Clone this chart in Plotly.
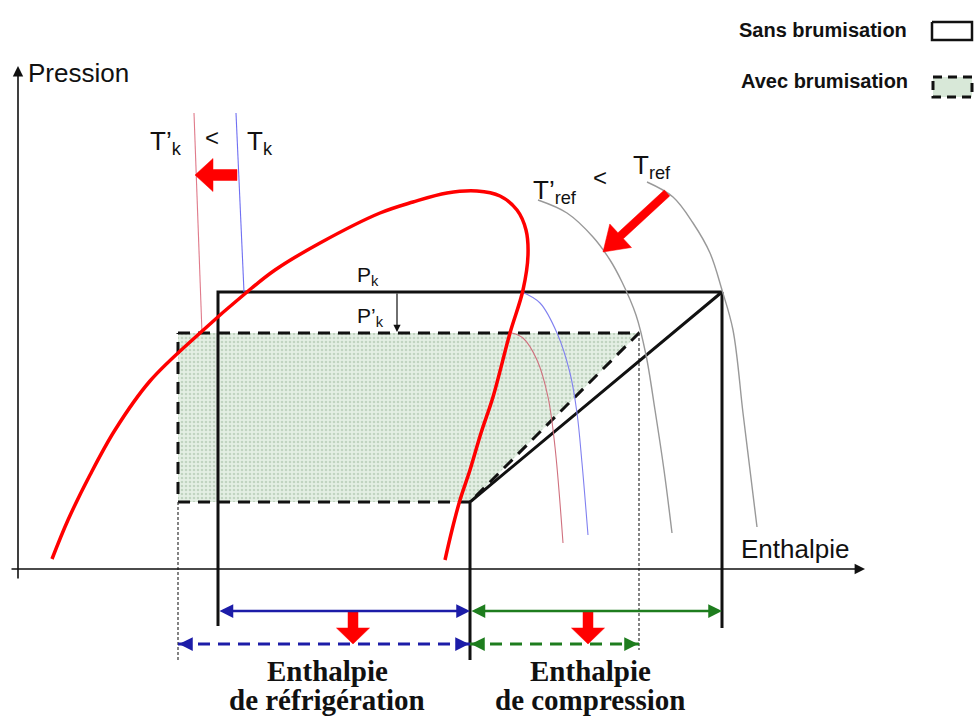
import plotly.graph_objects as go

W, H = 977, 718

# diagram drawn in picture units: h = enthalpy (left->right), p = pressure (top->down)
dome_h = [52, 68, 90, 115, 150, 200, 247, 275, 320, 380, 413, 447, 477, 500, 517, 526, 528, 523, 510, 493, 481, 470, 460, 452, 445]
dome_p = [559, 520, 475, 430, 381, 333, 292, 270, 243, 213, 202, 193, 191, 196, 210, 230, 255, 290, 333, 397, 433, 470, 500, 530, 560]

# isotherms T'k (pink) and Tk (blue), liquid side and vapour side
tk2_liq_h = [194, 202]
tk2_liq_p = [113, 333]
tk_liq_h = [236, 244]
tk_liq_p = [113, 292]
tk2_vap_h = [512, 523, 537, 548, 555, 563]
tk2_vap_p = [333, 338, 360, 397, 447, 543]
tk_vap_h = [522, 540, 557, 570, 577, 582, 588]
tk_vap_p = [292, 303, 333, 373, 413, 463, 535]

# isotherms T'ref and Tref (grey)
tref2_h = [538, 567, 593, 610, 622, 636, 646, 655, 664, 672]
tref2_p = [200, 213, 237, 260, 282, 315, 355, 410, 470, 533]
tref_h = [647, 673, 693, 710, 722, 733, 743, 750, 757]
tref_p = [182, 197, 223, 253, 290, 330, 413, 470, 527]

# cycle levels
h_liq, h_liq2, h_evap, h_comp, h_comp2 = 218, 178, 470, 722, 639
p_k, p_k2, p_0 = 292, 333, 502
p_axis, h_axis = 569, 18
y_dim, y_dim2 = 611, 644

# big red arrows: (tail_h, tail_p, tip_h, tip_p, shaft, head, head_len)
red_arrows = [
    (237, 175, 195, 175, 11, 33, 18),
    (667, 193, 603, 252, 8, 32, 24),
    (353, y_dim, 353, y_dim2, 10, 33, 16),
    (588, y_dim, 588, y_dim2, 10, 33, 16),
]

BLACK = "#111111"
RED = "#ff0000"
BLUE = "#1c1ca8"
GREEN = "#1e7d1e"


def arrow_poly(x0, y0, x1, y1, sw, hw, hl):
    dx, dy = x1 - x0, y1 - y0
    L = (dx * dx + dy * dy) ** 0.5
    ux, uy = dx / L, dy / L
    nx, ny = -uy, ux
    bx, by = x1 - ux * hl, y1 - uy * hl
    pts = [
        (x0 + nx * sw / 2, y0 + ny * sw / 2),
        (bx + nx * sw / 2, by + ny * sw / 2),
        (bx + nx * hw / 2, by + ny * hw / 2),
        (x1, y1),
        (bx - nx * hw / 2, by - ny * hw / 2),
        (bx - nx * sw / 2, by - ny * sw / 2),
        (x0 - nx * sw / 2, y0 - ny * sw / 2),
    ]
    pts.append(pts[0])
    return [p[0] for p in pts], [p[1] for p in pts]


fig = go.Figure()

# cycle with misting (dashed, filled)
fig.add_trace(go.Scatter(
    x=[h_liq2, h_comp2, h_evap, h_liq2, h_liq2],
    y=[p_k2, p_k2, p_0, p_0, p_k2],
    mode="lines", fill="toself",
    fillcolor="#d8e8d8",
    fillpattern=dict(shape=".", bgcolor="#e4efe4", fgcolor="#9db99d", size=4, solidity=0.35),
    line=dict(color=BLACK, width=3, dash="12px,8px"),
))

# dotted projections
fig.add_trace(go.Scatter(
    x=[h_liq2, h_liq2, None, h_comp2, h_comp2],
    y=[p_0, 662, None, p_k2, 650],
    mode="lines", line=dict(color="#333333", width=1.2, dash="3px,2px"),
))

# cycle without misting (solid)
fig.add_trace(go.Scatter(
    x=[h_liq, h_liq, h_comp, h_evap, h_evap, None, h_comp, h_comp],
    y=[626, p_k, p_k, p_0, 660, None, p_k, 628],
    mode="lines", line=dict(color=BLACK, width=3),
))

# isotherms
for hh, pp, col in [
    (tk2_liq_h, tk2_liq_p, "#e07a8a"), (tk_liq_h, tk_liq_p, "#6f6ff2"),
    (tk2_vap_h, tk2_vap_p, "#d0707e"), (tk_vap_h, tk_vap_p, "#8080f0"),
]:
    fig.add_trace(go.Scatter(x=hh, y=pp, mode="lines", line=dict(color=col, width=1.1, shape="spline")))
for hh, pp in [(tref2_h, tref2_p), (tref_h, tref_p)]:
    fig.add_trace(go.Scatter(x=hh, y=pp, mode="lines", line=dict(color="#999999", width=1.4, shape="spline")))

# saturation dome
fig.add_trace(go.Scatter(x=dome_h, y=dome_p, mode="lines",
                         line=dict(color=RED, width=3.5, shape="spline", smoothing=1)))

# dashed dimension lines
fig.add_trace(go.Scatter(x=[h_liq2, h_evap], y=[y_dim2, y_dim2], mode="lines",
                         line=dict(color=BLUE, width=3, dash="12px,8px")))
fig.add_trace(go.Scatter(x=[h_evap, h_comp2], y=[y_dim2, y_dim2], mode="lines",
                         line=dict(color=GREEN, width=3, dash="12px,8px")))

# red block arrows
for a in red_arrows:
    ax_, ay_ = arrow_poly(*a)
    fig.add_trace(go.Scatter(x=ax_, y=ay_, mode="lines", fill="toself",
                             fillcolor=RED, line=dict(color=RED, width=0.5)))

# legend boxes
fig.add_trace(go.Scatter(x=[932, 972, 972, 932, 932], y=[22, 22, 40, 40, 22], mode="lines",
                         line=dict(color=BLACK, width=2.5)))
fig.add_trace(go.Scatter(x=[933, 972, 972, 933, 933], y=[77, 77, 97, 97, 77], mode="lines",
                         fill="toself", fillcolor="#d8e8d8",
                         line=dict(color=BLACK, width=3, dash="9px,6px")))

ann = []


def arrow(x, y, ax, ay, color, width, both=False, head=2, size=1.0):
    ann.append(dict(x=x, y=y, ax=ax, ay=ay, xref="x", yref="y", axref="x", ayref="y",
                    text="", showarrow=True, arrowhead=head, startarrowhead=head,
                    arrowsize=size, startarrowsize=size,
                    arrowside="end+start" if both else "end",
                    arrowwidth=width, arrowcolor=color))


# axes
arrow(865, p_axis, 10, p_axis, BLACK, 1.6, head=2, size=1.3)
arrow(h_axis, 66, h_axis, 580, BLACK, 1.6, head=2, size=1.3)
# Pk -> P'k
arrow(397, p_k2 - 1, 397, p_k, BLACK, 1.2, head=2, size=1.2)
# dimension arrows
arrow(h_evap, y_dim, h_liq, y_dim, BLUE, 2.5, both=True, size=1.1)
arrow(h_comp, y_dim, h_evap, y_dim, GREEN, 2.5, both=True, size=1.1)
arrow(h_liq2 + 1, y_dim2, h_liq2 + 14, y_dim2, BLUE, 2.5, size=1.1)
arrow(h_evap - 1, y_dim2, h_evap - 14, y_dim2, BLUE, 2.5, size=1.1)
arrow(h_evap + 1, y_dim2, h_evap + 14, y_dim2, GREEN, 2.5, size=1.1)
arrow(h_comp2 - 1, y_dim2, h_comp2 - 14, y_dim2, GREEN, 2.5, size=1.1)


def label(text, x, y, size, xanchor="left", family="Arial, Liberation Sans", bold=False):
    ann.append(dict(x=x, y=y, xref="x", yref="y", text=f"<b>{text}</b>" if bold else text,
                    showarrow=False, xanchor=xanchor, yanchor="middle",
                    font=dict(family=family, size=size, color=BLACK)))


label("Pression", 26, 73, 26)
label("Enthalpie", 739, 549, 26)
label("T’<sub>k</sub>", 148, 142, 26)
label("<", 212, 137, 24, xanchor="center")
label("T<sub>k</sub>", 245, 142, 26)
label("T’<sub>ref</sub>", 531, 191, 26)
label("<", 600, 177, 24, xanchor="center")
label("T<sub>ref</sub>", 631, 166, 26)
label("P<sub>k</sub>", 355, 276, 21)
label("P’<sub>k</sub>", 355, 317, 21)
label("Sans brumisation", 737, 30, 20, bold=True)
label("Avec brumisation", 739, 81, 20, bold=True)
serif = "Times New Roman, Liberation Serif"
label("Enthalpie", 327, 671, 29, xanchor="center", family=serif, bold=True)
label("de réfrigération", 327, 700, 29, xanchor="center", family=serif, bold=True)
label("Enthalpie", 590, 671, 29, xanchor="center", family=serif, bold=True)
label("de compression", 590, 700, 29, xanchor="center", family=serif, bold=True)

fig.update_layout(
    width=W, height=H,
    margin=dict(l=0, r=0, t=0, b=0),
    paper_bgcolor="white", plot_bgcolor="white",
    showlegend=False,
    xaxis=dict(range=[0, W], visible=False, fixedrange=True),
    yaxis=dict(range=[H, 0], visible=False, fixedrange=True),
    annotations=ann,
)

fig.write_html("out.html", config={"displayModeBar": False},
               post_script="document.body.style.margin='0';")
